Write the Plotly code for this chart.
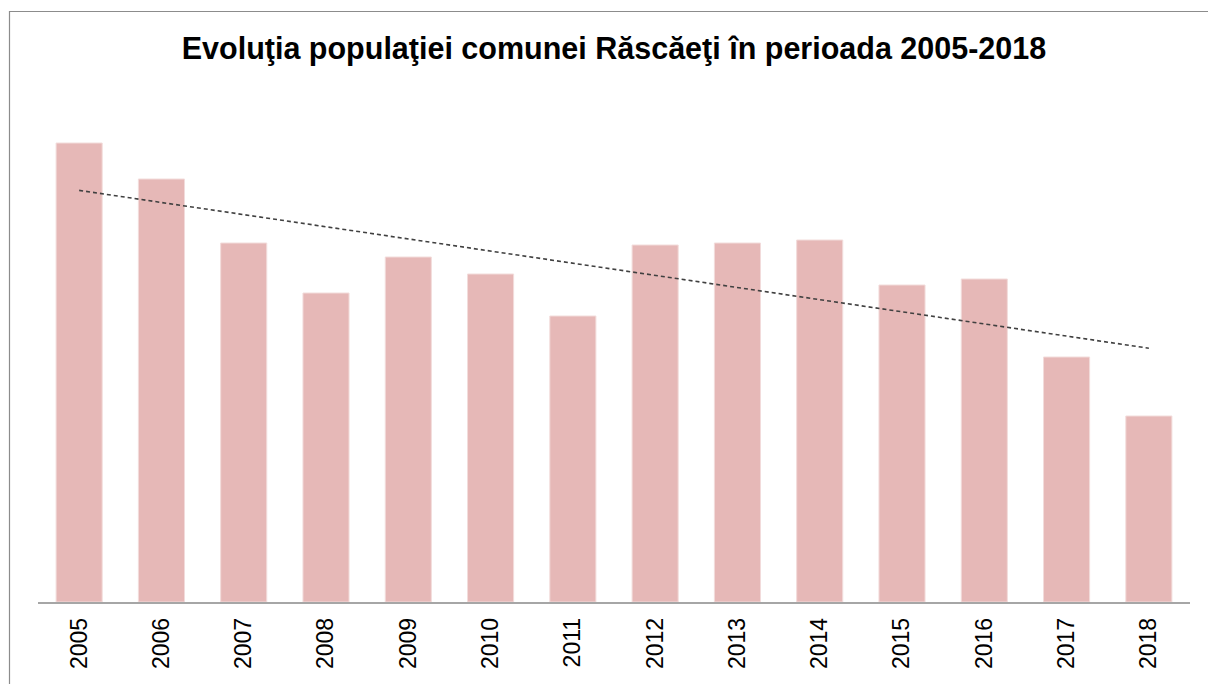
import numpy as np
import plotly.graph_objects as go

years = ["2005", "2006", "2007", "2008", "2009", "2010", "2011",
         "2012", "2013", "2014", "2015", "2016", "2017", "2018"]
population = [459, 423, 359, 309, 345, 328, 286, 357, 359, 362, 317, 323, 245, 186]
title_text = "Evoluţia populaţiei comunei Răscăeţi în perioada 2005-2018"

# linear trend (least squares) computed from the data
xi = np.arange(len(population))
slope, intercept = np.polyfit(xi, population, 1)
trend = [intercept, intercept + slope * (len(population) - 1)]

fig = go.Figure()
fig.add_trace(go.Bar(
    x=years, y=population,
    marker=dict(color="#E6B8B7", line=dict(color="#F2DCDB", width=1)),
    showlegend=False, hoverinfo="x+y",
))
fig.add_trace(go.Scatter(
    x=[years[0], years[-1]], y=trend, mode="lines",
    line=dict(color="#404040", width=1.6, dash="4px,3px"),
    showlegend=False, hoverinfo="skip",
))

W, H = 1208, 684
L, R, T, B = 38, 18, 100, 82
pw = W - L - R
ph = H - T - B

def px(xp):
    return (xp - L) / pw

def py(yp):
    return (H - B - yp) / ph

fig.update_layout(
    width=W, height=H,
    margin=dict(l=L, r=R, t=T, b=B),
    paper_bgcolor="white", plot_bgcolor="white",
    bargap=0.44,
    font=dict(family="Liberation Sans, Arial, sans-serif", color="black"),
    title=dict(text=title_text, x=0.5, xref="paper", y=1 - 48 / H, yanchor="middle",
               font=dict(family="Liberation Sans, Arial, sans-serif", size=30.5, color="black",
                         weight="bold")),
    xaxis=dict(type="category", showline=True, linecolor="#A6A6A6", linewidth=1.5,
               ticks="", tickangle=-90, tickfont=dict(size=23, color="black"),
               ticklabelstandoff=5, showgrid=False, zeroline=False),
    yaxis=dict(range=[0, ph], visible=False, showgrid=False, zeroline=False),
    shapes=[dict(type="rect", xref="paper", yref="paper",
                 x0=px(9.5), x1=px(1215), y0=py(700), y1=py(11.5),
                 line=dict(color="#8C8C8C", width=1.2), fillcolor="rgba(0,0,0,0)",
                 layer="below")],
)

fig.write_html("out.html", config={"displayModeBar": False},
               post_script="document.body.style.margin='0';document.body.style.padding='0';")
